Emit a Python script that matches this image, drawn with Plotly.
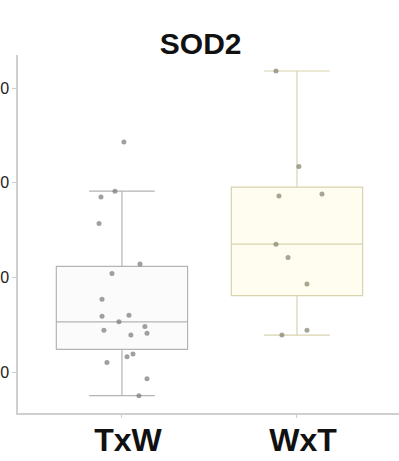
import plotly.graph_objects as go

groups = ["TxW", "WxT"]
txw_values = [34.3, 29.1, 28.5, 25.7, 21.4, 20.4, 17.7, 15.9, 16.0, 15.3,
              14.4, 14.8, 14.1, 13.9, 11.6, 11.9, 11.0, 9.3, 7.5]
txw_jitter = [0.011, -0.04, -0.12, -0.131, 0.103, -0.057, -0.114, -0.114, 0.04, -0.017,
              -0.103, 0.131, 0.143, 0.051, 0.029, 0.063, -0.086, 0.143, 0.097]
wxt_values = [41.8, 31.7, 28.6, 28.8, 23.5, 22.1, 19.3, 14.4, 13.9]
wxt_jitter = [-0.12, 0.011, -0.103, 0.143, -0.12, -0.051, 0.057, 0.057, -0.086]
y_ticks = [10, 20, 30, 40]
title_text = "SOD2"

series = [
    (txw_values, txw_jitter, "#b4b4b4", "rgba(240,240,240,0.25)", "rgba(120,120,120,0.7)"),
    (wxt_values, wxt_jitter, "#d8d3ae", "rgba(255,251,222,0.45)", "rgba(130,128,105,0.7)"),
]

fig = go.Figure()
for i, (vals, jit, lc, fc, pc) in enumerate(series):
    fig.add_trace(go.Box(
        x=[i] * len(vals), y=vals, width=0.75,
        line=dict(color=lc, width=1.2), fillcolor=fc,
        boxpoints="outliers", marker=dict(opacity=0, size=1),
        showlegend=False, hoverinfo="skip",
    ))
    fig.add_trace(go.Scatter(
        x=[i + j for j in jit], y=vals, mode="markers",
        marker=dict(color=pc, size=5),
        showlegend=False, hoverinfo="skip",
    ))

fig.update_layout(
    width=399, height=461,
    margin=dict(l=18, r=0, t=55, b=48),
    paper_bgcolor="white", plot_bgcolor="white",
    font=dict(family="Liberation Sans, Arial, sans-serif", color="black"),
    title=dict(text="<b>" + title_text + "</b>", font=dict(size=30, color="#111"),
               xref="container", x=0.503, xanchor="center",
               yref="container", y=1 - 43 / 461, yanchor="middle"),
    xaxis=dict(range=[-0.594, 1.583], tickvals=[0, 1], ticktext=["<b>" + g + "</b>" for g in groups],
               tickfont=dict(size=32, color="#111"), showgrid=False, zeroline=False,
               showline=True, linecolor="#cfcfcf", linewidth=1.5, automargin=False,
               ticks="outside", ticklen=3, tickcolor="#cfcfcf", ticklabelshift=6,
               ticklabelstandoff=-5),
    yaxis=dict(range=[5.67, 43.49], tickvals=y_ticks, ticktext=[str(t) for t in y_ticks],
               tickfont=dict(size=16, color="#222"), showgrid=False, zeroline=False,
               showline=True, linecolor="#cfcfcf", linewidth=1.5, automargin=False,
               ticks="outside", ticklen=4, tickcolor="#cfcfcf"),
)

fig.write_html("out.html", config={"displayModeBar": False},
               post_script="document.body.style.margin='0px';document.body.style.overflow='hidden';")
